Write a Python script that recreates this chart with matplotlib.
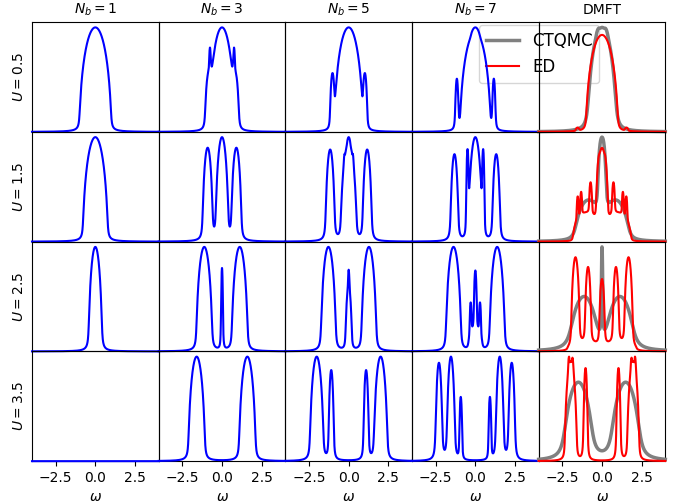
import numpy as np
import matplotlib.pyplot as plt

# frequency grid
omega = np.linspace(-4, 4, 1601)

nb_values = [1, 3, 5, 7]
u_values = [0.5, 1.5, 2.5, 3.5]

# peaks: (centre, height, half-width, broadening)
# a centre > 0 stands for the mirrored pair +/- centre
nb1_peaks = [
    [(0.0, 1.0, 1.0, 0.04)],
    [(0.0, 1.0, 0.78, 0.04)],
    [(0.0, 1.0, 0.42, 0.04)],
    [],
]
nb3_peaks = [
    [(0.0, 1.0, 0.76, 0.04), (0.87, 0.5, 0.2, 0.04), (0.77, 0.22, 0.05, 0.02)],
    [(0.0, 1.0, 0.40, 0.04), (0.91, 0.9, 0.32, 0.04)],
    [(0.0, 0.78, 0.07, 0.02), (1.12, 1.0, 0.5, 0.04)],
    [(1.6, 1.0, 0.52, 0.04)],
]
nb5_peaks = [
    [(0.0, 1.0, 0.88, 0.04), (1.03, 0.52, 0.15, 0.03)],
    [(0.0, 0.93, 0.5, 0.04), (0.0, 0.07, 0.12, 0.02), (0.28, 0.06, 0.04, 0.01),
     (1.17, 0.88, 0.29, 0.04)],
    [(0.0, 0.6, 0.2, 0.03), (0.0, 0.17, 0.05, 0.01), (1.28, 1.0, 0.47, 0.04)],
    [(1.1, 0.86, 0.17, 0.03), (2.02, 1.0, 0.43, 0.04)],
]
nb7_peaks = [
    [(0.0, 0.95, 0.95, 0.04), (0.0, 0.05, 0.3, 0.03), (1.17, 0.48, 0.11, 0.03)],
    [(0.0, 1.0, 0.42, 0.04), (0.5, 0.8, 0.09, 0.02), (1.32, 0.84, 0.25, 0.04)],
    [(0.0, 0.56, 0.1, 0.02), (0.0, 0.2, 0.45, 0.04), (0.3, 0.3, 0.07, 0.015),
     (1.38, 1.0, 0.48, 0.04)],
    [(0.92, 0.6, 0.1, 0.02), (1.54, 1.0, 0.26, 0.04), (2.3, 0.94, 0.22, 0.04)],
]
ctqmc_peaks = [
    [(0.0, 1.0, 0.9, 0.1), (0.28, 0.03, 0.12, 0.03)],
    [(0.0, 0.85, 0.28, 0.05), (0.9, 0.38, 0.8, 0.15)],
    [(0.0, 0.9, 0.05, 0.02), (1.15, 0.55, 0.85, 0.25)],
    [(1.5, 0.71, 0.9, 0.2)],
]
ed_peaks = [
    [(0.0, 0.93, 1.0, 0.04), (1.55, 0.03, 0.12, 0.02)],
    [(0.0, 0.88, 0.37, 0.03), (0.72, 0.3, 0.1, 0.02), (1.0, 0.27, 0.85, 0.03),
     (1.32, 0.22, 0.07, 0.015), (1.54, 0.22, 0.07, 0.015)],
    [(0.0, 0.65, 0.18, 0.03), (0.88, 0.78, 0.2, 0.03), (1.68, 0.9, 0.27, 0.03),
     (1.0, 0.08, 1.2, 0.03)],
    [(1.04, 0.84, 0.14, 0.03), (1.97, 0.9, 0.38, 0.03), (1.85, 0.08, 0.05, 0.01),
     (2.1, 0.1, 0.05, 0.01)],
]


def spectral(peaks):
    # sum of broadened semicircles, each scaled to its read-off height
    A = np.zeros_like(omega)
    for c, h, d, eta in peaks:
        for c0 in ([c, -c] if c > 0 else [c]):
            z = omega - c0 + 1j * eta
            g = -(z - np.sqrt(z - d) * np.sqrt(z + d)).imag
            A += h * g / g.max()
    return A


fig, axes = plt.subplots(4, 5, figsize=(6.81, 5.04), sharex=True)
fig.subplots_adjust(left=0.047, right=0.977, top=0.956, bottom=0.085,
                    wspace=0, hspace=0)

blue_cols = [nb1_peaks, nb3_peaks, nb5_peaks, nb7_peaks]
for i, u in enumerate(u_values):
    for j, nb in enumerate(nb_values):
        ax = axes[i, j]
        ax.plot(omega, spectral(blue_cols[j][i]), color='blue', lw=1.5,
                zorder=3, clip_on=False)
    ax = axes[i, 4]
    l1, = ax.plot(omega, spectral(ctqmc_peaks[i]), color='gray', lw=2.5,
                  label='CTQMC', zorder=3, clip_on=False)
    l2, = ax.plot(omega, spectral(ed_peaks[i]), color='red', lw=1.5,
                  label='ED', zorder=3, clip_on=False)
    axes[i, 0].set_ylabel('$U = %s$' % u, fontsize=10)

for j, nb in enumerate(nb_values):
    axes[0, j].set_title('$N_b = %d$' % nb, fontsize=10)
axes[0, 4].set_title('DMFT', fontsize=10)

for ax in axes.flat:
    ax.set_facecolor('none')
    ax.set_yticks([])
    ax.set_ylim(bottom=0)
    ax.set_xlim(-4, 4)
for ax in axes[:3].flat:
    ax.tick_params(axis='x', bottom=False)
for ax in axes[3]:
    ax.set_xticks([-2.5, 0.0, 2.5])
    ax.tick_params(labelsize=10)
    ax.set_xlabel(r'$\omega$', fontsize=10)

leg = axes[0, 3].legend(handles=[l1, l2], loc='upper right', bbox_to_anchor=(1.48, 0.972),
                        borderaxespad=0, fontsize=12)
leg.set_zorder(1)

plt.savefig('out.png', dpi=100)
